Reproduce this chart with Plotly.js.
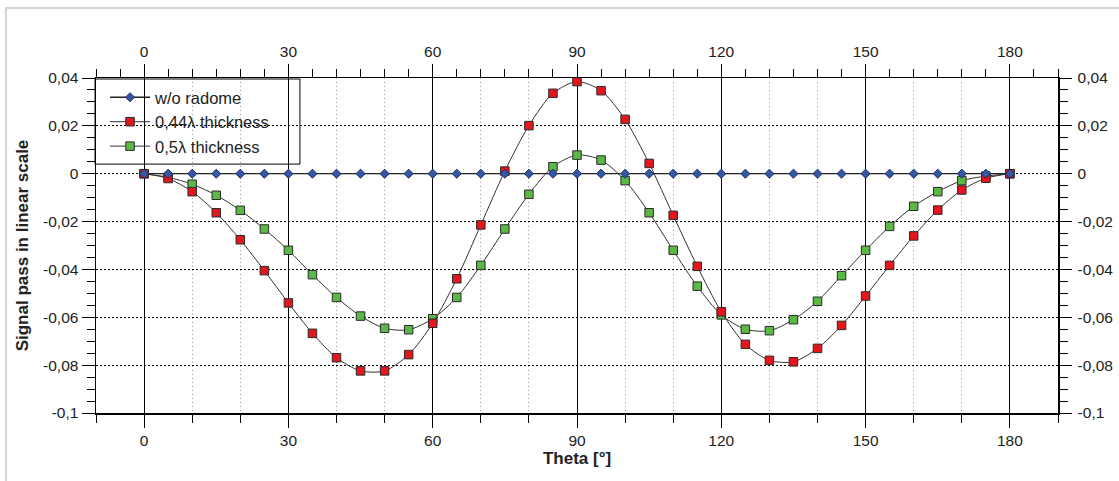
<!DOCTYPE html>
<html>
<head>
<meta charset="utf-8">
<script src="https://cdn.plot.ly/plotly-3.0.1.min.js"></script>
<style>
  html, body { margin: 0; padding: 0; background: #fff; }
  #chart { width: 1119px; height: 481px; }
</style>
</head>
<body>
<div id="chart"></div>
<script>
// ---- data ----
const theta = [0, 5, 10, 15, 20, 25, 30, 35, 40, 45, 50, 55, 60, 65, 70, 75, 80, 85, 90,
               95, 100, 105, 110, 115, 120, 125, 130, 135, 140, 145, 150, 155, 160, 165, 170, 175, 180];

const noRadome = [0, 0, 0, 0, 0, 0, 0, 0, 0, 0, 0, 0, 0, 0, 0, 0, 0, 0, 0,
                  0, 0, 0, 0, 0, 0, 0, 0, 0, 0, 0, 0, 0, 0, 0, 0, 0, 0];

const thick044 = [0, -0.002, -0.0075, -0.0163, -0.0276, -0.0405, -0.054, -0.0667, -0.0769, -0.0824,
                  -0.0824, -0.0756, -0.0625, -0.0439, -0.0214, 0.0011, 0.0201, 0.0336, 0.0385,
                  0.0347, 0.0227, 0.0043, -0.0174, -0.0387, -0.0577, -0.0713, -0.078, -0.0786,
                  -0.073, -0.0634, -0.0511, -0.0383, -0.026, -0.0152, -0.0068, -0.0019, 0];

const thick05 = [0, -0.0015, -0.0044, -0.009, -0.0153, -0.0231, -0.032, -0.0422, -0.0517, -0.0595,
                 -0.0646, -0.0652, -0.0606, -0.0517, -0.0383, -0.0231, -0.0086, 0.0029, 0.0078,
                 0.0057, -0.0029, -0.0163, -0.032, -0.047, -0.059, -0.065, -0.0656, -0.061,
                 -0.0533, -0.0426, -0.032, -0.022, -0.0136, -0.0075, -0.0029, -0.001, 0];

const seriesNames = ['w/o radome', '0,44λ thickness', '0,5λ thickness'];

const xTickVals = [0, 30, 60, 90, 120, 150, 180];
const xTickText = ['0', '30', '60', '90', '120', '150', '180'];
const yTickVals = [0.04, 0.02, 0, -0.02, -0.04, -0.06, -0.08, -0.1];
const yTickText = ['0,04', '0,02', '0', '-0,02', '-0,04', '-0,06', '-0,08', '-0,1'];

const xTitle = 'Theta [°]';
const yTitle = 'Signal pass in linear scale';

// ---- traces ----
const lineStyle = { color: '#333', width: 1, shape: 'spline', smoothing: 0.8 };

const traces = [
  {
    x: theta, y: thick05, name: seriesNames[2], type: 'scatter', mode: 'lines+markers',
    line: lineStyle,
    marker: { symbol: 'square', size: 8.5, color: '#5cb845', line: { color: '#2a2a2a', width: 1 } },
    hoverinfo: 'skip'
  },
  {
    x: theta, y: thick044, name: seriesNames[1], type: 'scatter', mode: 'lines+markers',
    line: lineStyle,
    marker: { symbol: 'square', size: 8.5, color: '#e3161c', line: { color: '#2a2a2a', width: 1 } },
    hoverinfo: 'skip'
  },
  {
    x: theta, y: noRadome, name: seriesNames[0], type: 'scatter', mode: 'lines+markers',
    line: { color: '#222', width: 1.3 },
    marker: { symbol: 'diamond', size: 7, color: '#3557a5', line: { color: '#1e2f66', width: 1 } },
    hoverinfo: 'skip'
  },
  {
    // carrier for the mirrored top / right axes (invisible)
    x: theta, y: noRadome, xaxis: 'x2', yaxis: 'y2', type: 'scatter', mode: 'markers',
    marker: { opacity: 0 }, showlegend: false, hoverinfo: 'skip'
  }
];

const fontFam = '"Liberation Sans", Arial, sans-serif';
const xRange = [-10, 190];
const yRange = [-0.1, 0.04];

const layout = {
  width: 1119, height: 481,
  margin: { l: 96, r: 61, t: 78, b: 68, pad: 0 },
  paper_bgcolor: '#ffffff', plot_bgcolor: '#ffffff',
  font: { family: fontFam, size: 15.5, color: '#222' },
  showlegend: true,
  legend: {
    x: 0.0094, y: 0.994, xanchor: 'left', yanchor: 'top',
    bgcolor: 'rgba(0,0,0,0)', borderwidth: 0,
    font: { family: fontFam, size: 16.5, color: '#222' },
    traceorder: 'reversed', itemwidth: 40
  },
  xaxis: {
    range: xRange, tickmode: 'array', tickvals: xTickVals, ticktext: xTickText,
    ticks: 'outside', ticklen: 13, tickwidth: 1, tickcolor: '#000',
    showline: true, linecolor: '#000', linewidth: 1.5,
    showgrid: true, gridcolor: '#000', gridwidth: 1, zeroline: false,
    minor: { tickmode: 'linear', tick0: 0, dtick: 10, ticks: 'outside', ticklen: 8, tickcolor: '#000',
             showgrid: true, gridcolor: '#9a9a9a', griddash: '1px,3px', gridwidth: 1 },
    title: { text: xTitle, font: { family: fontFam, size: 17, weight: 'bold', color: '#222' }, standoff: 2 },
    fixedrange: true
  },
  xaxis2: {
    overlaying: 'x', side: 'top', anchor: 'y',
    range: xRange, tickmode: 'array', tickvals: xTickVals, ticktext: xTickText,
    ticks: 'outside', ticklen: 13, tickwidth: 1, tickcolor: '#000',
    showline: true, linecolor: '#000', linewidth: 1.5,
    showgrid: false, zeroline: false,
    minor: { tickmode: 'linear', tick0: 0, dtick: 5, ticks: 'outside', ticklen: 8, tickcolor: '#000', showgrid: false },
    fixedrange: true
  },
  yaxis: {
    range: yRange, tickmode: 'array', tickvals: yTickVals, ticktext: yTickText,
    ticks: 'outside', ticklen: 13, tickwidth: 1, tickcolor: '#000',
    showline: true, linecolor: '#000', linewidth: 1.5,
    showgrid: true, gridcolor: '#000', gridwidth: 1, griddash: '2px,2px', zeroline: false,
    minor: { tickmode: 'linear', tick0: 0, dtick: 0.005, ticks: 'outside', ticklen: 8, tickcolor: '#000', showgrid: false },
    title: { text: yTitle, font: { family: fontFam, size: 17, weight: 'bold', color: '#222' }, standoff: 10 },
    fixedrange: true
  },
  yaxis2: {
    overlaying: 'y', side: 'right', anchor: 'x',
    range: yRange, tickmode: 'array', tickvals: yTickVals, ticktext: yTickText,
    ticks: 'outside', ticklen: 12, tickwidth: 1, tickcolor: '#000',
    showline: true, linecolor: '#000', linewidth: 1.5,
    showgrid: false, zeroline: false, ticklabelstandoff: 3,
    minor: { tickmode: 'linear', tick0: 0, dtick: 0.005, ticks: 'outside', ticklen: 8, tickcolor: '#000', showgrid: false },
    fixedrange: true
  },
  shapes: [
    // light outer frame of the picture
    { type: 'rect', xref: 'paper', yref: 'paper', x0: -0.0936, x1: 1.1, y0: -0.3, y1: 1.209,
      line: { color: '#d4d4d4', width: 2 }, fillcolor: 'rgba(0,0,0,0)', layer: 'below' },
    // legend box border
    { type: 'rect', xref: 'paper', yref: 'paper', x0: -0.001, x1: 0.212, y0: 0.743, y1: 0.997,
      line: { color: '#000', width: 1 }, fillcolor: 'rgba(0,0,0,0)', layer: 'above' }
  ]
};

Plotly.newPlot('chart', traces, layout, { displayModeBar: false, staticPlot: true });
</script>
</body>
</html>
